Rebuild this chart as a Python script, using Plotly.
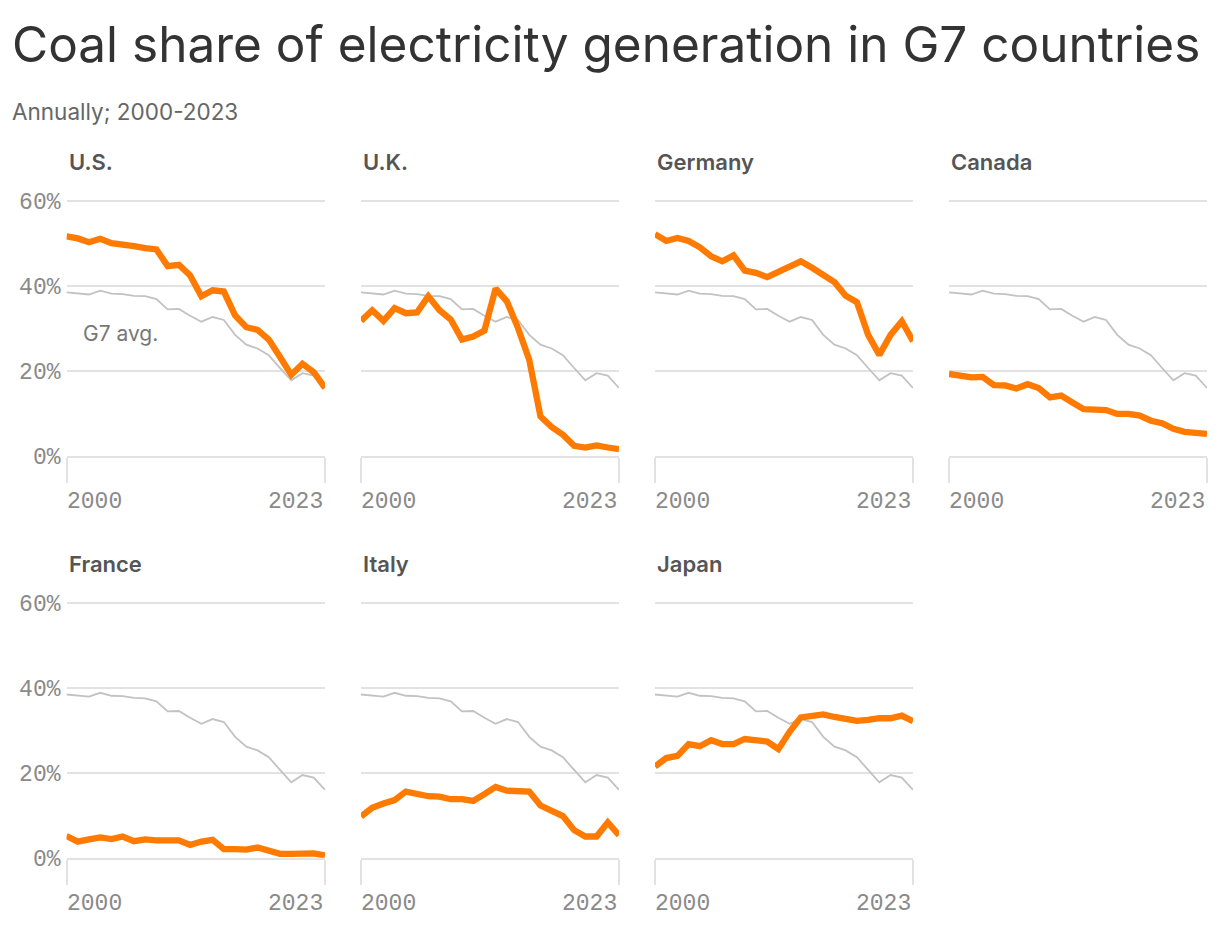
import plotly.graph_objects as go

years = list(range(2000, 2024))

g7_avg = [38.5, 38.2, 38.0, 38.9, 38.2, 38.1, 37.7, 37.6, 36.9, 34.5, 34.6, 33.0,
          31.6, 32.7, 32.0, 28.5, 26.2, 25.3, 23.7, 20.7, 17.8, 19.5, 18.9, 16.0]

us = [51.7, 51.2, 50.3, 51.1, 50.1, 49.9, 49.4, 48.9, 48.6, 44.7, 45.0, 42.5,
      37.6, 39.0, 38.7, 33.1, 30.3, 29.7, 27.4, 23.3, 19.1, 21.7, 19.7, 16.0]
uk = [31.8, 34.3, 31.8, 34.8, 33.6, 33.8, 37.6, 34.3, 32.1, 27.4, 28.1, 29.5,
      39.4, 36.4, 30.1, 22.6, 9.3, 6.8, 5.0, 2.4, 2.0, 2.5, 2.0, 1.6]
germany = [52.2, 50.6, 51.3, 50.6, 49.1, 47.0, 45.8, 47.2, 43.6, 43.1, 42.1, 43.3,
           44.6, 45.8, 44.3, 42.6, 40.9, 37.7, 36.2, 28.5, 23.8, 28.5, 31.7, 27.0]
canada = [19.3, 19.0, 18.5, 18.6, 16.7, 16.6, 15.9, 16.9, 16.0, 13.8, 14.2, 12.6,
          11.0, 10.9, 10.8, 9.9, 9.9, 9.5, 8.3, 7.7, 6.4, 5.7, 5.5, 5.2]
france = [5.1, 3.8, 4.3, 4.8, 4.4, 5.0, 3.9, 4.3, 4.1, 4.1, 4.1, 3.0,
          3.8, 4.2, 2.0, 2.0, 1.9, 2.4, 1.7, 0.9, 0.9, 1.1, 1.0, 0.5]
italy = [9.7, 11.8, 12.8, 13.6, 15.6, 14.9, 14.5, 14.4, 13.8, 13.8, 13.4, 15.0,
         16.7, 15.8, 15.8, 15.6, 12.3, 11.1, 9.8, 6.5, 5.0, 5.0, 8.3, 5.3]
japan = [21.5, 23.5, 24.0, 26.8, 26.3, 27.7, 26.8, 26.8, 28.0, 27.8, 27.4, 25.6,
         29.7, 33.1, 33.6, 33.8, 33.2, 32.6, 32.3, 32.5, 32.9, 32.9, 33.5, 32.2]

countries = ["U.S.", "U.K.", "Germany", "Canada", "France", "Italy", "Japan"]
country_values = [us, uk, germany, canada, france, italy, japan]

y_ticks = [0, 20, 40, 60]
y_tick_text = ["0%", "20%", "40%", "60%"]
x_tick_labels = ["2000", "2023"]

W, H = 1220, 934
ORANGE = "#ff7a00"
GREY_LINE = "#c2c2c2"
GRID = "#e2e2e2"
TICK_FONT = dict(family="Liberation Mono", size=23, color="#8a8a8a")

col_px = [(66.5, 325), (361, 619), (655, 913), (949, 1207)]
row_px = [(196.75, 456), (599.1, 857.7)]  # top, bottom (pixel)

fig = go.Figure()
annotations = []

for i, (name, vals) in enumerate(zip(countries, country_values)):
    r, c = divmod(i, 4)
    n = i + 1
    xa = "xaxis" if n == 1 else f"xaxis{n}"
    ya = "yaxis" if n == 1 else f"yaxis{n}"
    xref = "x" if n == 1 else f"x{n}"
    yref = "y" if n == 1 else f"y{n}"
    x0, x1 = col_px[c]
    top, bot = row_px[r]
    fig.add_trace(go.Scatter(x=years, y=g7_avg, mode="lines",
                             line=dict(color=GREY_LINE, width=1.8),
                             xaxis=xref, yaxis=yref, showlegend=False, hoverinfo="skip"))
    fig.add_trace(go.Scatter(x=years, y=vals, mode="lines",
                             line=dict(color=ORANGE, width=6.3),
                             xaxis=xref, yaxis=yref, showlegend=False))
    fig.layout[xa] = dict(domain=[x0 / W, x1 / W], range=[2000, 2023],
                          anchor=yref, showgrid=False, zeroline=False,
                          showline=True, linecolor=GRID, linewidth=2,
                          tickvals=[2000, 2023], ticktext=["", ""],
                          ticks="outside", ticklen=25, tickwidth=2, tickcolor=GRID,
                          automargin=False, fixedrange=True)
    fig.layout[ya] = dict(domain=[1 - bot / H, 1 - top / H], range=[0, 61],
                          anchor=xref, showgrid=True, gridcolor=GRID, gridwidth=2,
                          zeroline=False, showline=False,
                          tickvals=y_ticks, ticktext=y_tick_text,
                          showticklabels=(c == 0), tickfont=TICK_FONT,
                          ticks="", ticklabelstandoff=5,
                          automargin=False, fixedrange=True)
    # panel title
    annotations.append(dict(text=name, x=x0 / W, y=1 - (top - 35) / H,
                            xref="paper", yref="paper", xanchor="left", yanchor="middle",
                            showarrow=False,
                            font=dict(family="Inter", size=22, color="#555555", weight=600)))
    # year labels
    annotations.append(dict(text=x_tick_labels[0], x=2000, xref=xref,
                            y=1 - (bot + 46) / H, yref="paper", xshift=-2,
                            xanchor="left", yanchor="middle", showarrow=False,
                            font=TICK_FONT))
    annotations.append(dict(text=x_tick_labels[1], x=2023, xref=xref,
                            y=1 - (bot + 46) / H, yref="paper",
                            xanchor="right", yanchor="middle", showarrow=False,
                            font=TICK_FONT))

annotations.append(dict(text="G7 avg.", x=2001.25, y=28.9, xref="x", yref="y",
                        xanchor="left", yanchor="middle", showarrow=False,
                        font=dict(family="Inter", size=21, color="#777777")))

annotations.append(dict(text="Coal share of electricity generation in G7 countries",
                        x=10 / W, y=1 - 44 / H, xref="paper", yref="paper",
                        xanchor="left", yanchor="middle", showarrow=False,
                        font=dict(family="Inter", size=49.5, color="#333333")))
annotations.append(dict(text="Annually; 2000-2023",
                        x=10 / W, y=1 - 111 / H, xref="paper", yref="paper",
                        xanchor="left", yanchor="middle", showarrow=False,
                        font=dict(family="Inter", size=22.5, color="#666666")))

fig.update_layout(width=W, height=H, margin=dict(l=0, r=0, t=0, b=0, autoexpand=False),
                  paper_bgcolor="white", plot_bgcolor="white",
                  annotations=annotations, showlegend=False)

fig.write_html("out.html", config={"displayModeBar": False})
